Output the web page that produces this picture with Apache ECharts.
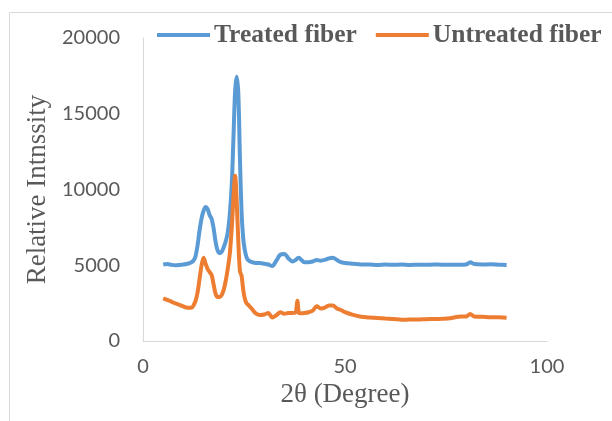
<!DOCTYPE html>
<html>
<head>
<meta charset="utf-8">
<script src="https://cdn.jsdelivr.net/npm/echarts@6/dist/echarts.min.js"></script>
<style>
html,body{margin:0;padding:0;background:#fff;}
#chart{width:612px;height:421px;}
</style>
</head>
<body>
<div id="chart"></div>
<script>
const twoTheta = [5,6,7,8,9,10,11,12,12.5,13,13.5,14,14.5,15,15.5,16,16.5,17,17.5,18,18.5,19,19.5,20,20.5,21,21.5,22,22.4,22.8,23.2,23.6,24,24.4,24.8,25.2,25.6,26,27,28,29,30,31,32,33,34,35,36,37,37.8,38.2,38.6,39,40,41,42,43,44,45,46,47,48,49,50,52,54,56,58,60,62,64,66,68,70,72,74,76,78,80,81,82,84,86,88,90];
const treated = [5050,5080,5030,5000,5020,5050,5100,5200,5300,5600,6300,7300,8100,8600,8850,8700,8300,8050,7400,6500,5950,5800,5900,6200,6600,7200,8400,10500,13500,16500,17450,16300,12000,8500,6800,6000,5550,5350,5200,5150,5150,5100,5050,4950,5300,5700,5750,5450,5250,5350,5450,5500,5400,5200,5200,5250,5350,5300,5350,5450,5500,5350,5200,5150,5100,5050,5050,5020,5050,5030,5050,5020,5040,5030,5050,5040,5040,5030,5050,5200,5080,5050,5060,5040,5020];
const untreated = [2820,2720,2600,2480,2390,2280,2200,2200,2350,2650,3200,4100,5000,5500,5100,4750,4550,4350,3700,3100,2900,2900,3050,3400,4000,4800,5800,7600,9500,10900,9200,6500,4600,4300,3400,2800,2500,2400,2100,1800,1720,1750,1850,1550,1700,1900,1800,1850,1850,1900,2650,1850,1830,1850,1900,2000,2300,2150,2200,2350,2350,2150,2050,1900,1720,1600,1550,1520,1480,1450,1400,1420,1420,1440,1450,1470,1500,1600,1620,1780,1620,1600,1560,1560,1540];
const xTicks = [0, 50, 100];
const yTicks = [0, 5000, 10000, 15000, 20000];
const seriesNames = ['Treated fiber', 'Untreated fiber'];

const chart = echarts.init(document.getElementById('chart'), null, {renderer:'canvas'});
const pair = arr => twoTheta.map((x,i)=>[x, arr[i]]);
const txt = '#595959';
chart.setOption({
  animation:false,
  backgroundColor:'#fff',
  graphic:[{type:'rect', shape:{x:9.5,y:12.5,width:700,height:500}, style:{fill:'none', stroke:'#d9d9d9', lineWidth:1}, silent:true}],
  legend:{
    left:152, top:17, itemWidth:53, itemHeight:4, itemGap:19, icon:'rect',
    textStyle:{fontFamily:'Liberation Serif', fontWeight:'bold', fontSize:25.5, color:txt, padding:[0,0,0,-1]},
    data:seriesNames
  },
  grid:{left:143, top:38, width:404, height:303, containLabel:false},
  xAxis:{
    type:'value', min:xTicks[0], max:xTicks[xTicks.length-1], interval:xTicks[1]-xTicks[0],
    name:'2θ (Degree)', nameLocation:'middle', nameGap:36,
    nameTextStyle:{fontFamily:'Liberation Serif', fontSize:27, color:txt},
    axisLine:{lineStyle:{color:'#d9d9d9', width:1}}, axisTick:{show:false}, splitLine:{show:false},
    axisLabel:{fontFamily:'Lato', fontSize:20, color:txt, margin:16, formatter:v=>String(v)}
  },
  yAxis:{
    type:'value', min:yTicks[0], max:yTicks[yTicks.length-1], interval:yTicks[1]-yTicks[0],
    name:'Relative Intnssity', nameLocation:'middle', nameGap:87, nameRotate:90,
    nameTextStyle:{fontFamily:'Liberation Serif', fontSize:27, color:txt},
    axisLine:{show:true, lineStyle:{color:'#d9d9d9', width:1}}, axisTick:{show:false}, splitLine:{show:false},
    axisLabel:{fontFamily:'Lato', fontSize:20, color:txt, margin:23, formatter:v=>String(v)}
  },
  series:[
    {name:seriesNames[0], type:'line', data:pair(treated), showSymbol:false, symbol:'none', smooth:0.3,
     lineStyle:{color:'#5B9BD5', width:4}, itemStyle:{color:'#5B9BD5'}},
    {name:seriesNames[1], type:'line', data:pair(untreated), showSymbol:false, symbol:'none', smooth:0.3,
     lineStyle:{color:'#ED7D31', width:4}, itemStyle:{color:'#ED7D31'}}
  ]
});
</script>
</body>
</html>
